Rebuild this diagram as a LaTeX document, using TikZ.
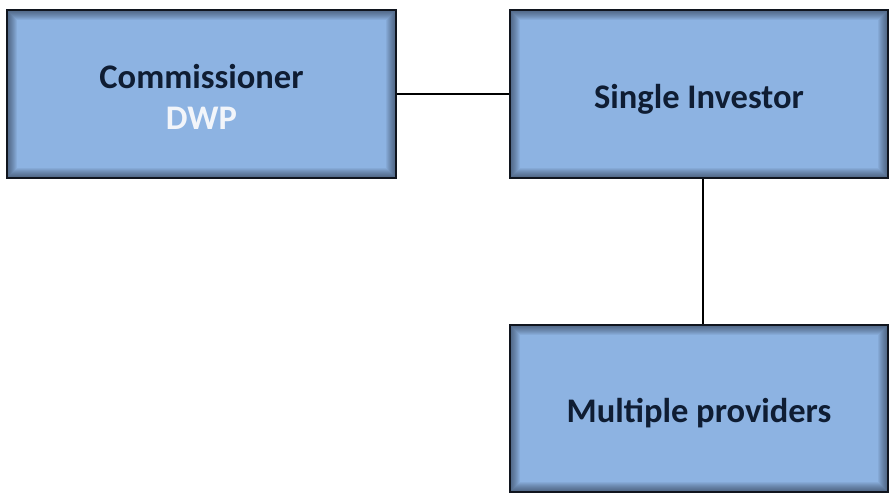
\documentclass[tikz,border=0pt]{standalone}
\usepackage{fontspec}
\setmainfont{Carlito}
\usetikzlibrary{calc}
\definecolor{boxfill}{HTML}{8DB3E2}
\definecolor{boxedge}{HTML}{10151E}
\definecolor{boxtext}{HTML}{0F1D33}
\definecolor{lighttext}{HTML}{F2F5FA}
\tikzset{
  orgbox/.style={rectangle, draw=boxedge, line width=2.8pt, fill=boxfill,
    inner sep=0pt, align=center, text=boxtext,
    text height=34pt, text depth=6pt,
    font=\fontsize{34.5}{41}\selectfont\bfseries,
    path picture={
      \foreach \i in {1,...,10}{
        \draw[line width=2*\i pt, draw=boxedge, opacity=0.06]
          (path picture bounding box.south west) rectangle
          (path picture bounding box.north east);
      }
    }},
  link/.style={draw=black, line width=2pt}
}
\begin{document}
\begin{tikzpicture}[x=1pt,y=-1pt]
  \useasboundingbox (0,0) rectangle (889,493);
  \fill[white] (0,0) rectangle (889,493);
  \node[orgbox, minimum width=389pt, minimum height=168pt,
        text height=74pt, text depth=4pt] (comm) at (201.5,94)
    {Commissioner\\\textcolor{lighttext}{DWP}};
  \node[orgbox, minimum width=378pt, minimum height=168pt] (inv) at (699,94)
    {Single Investor};
  \node[orgbox, minimum width=378pt, minimum height=167pt] (prov) at (699,408.5)
    {Multiple providers};
  \draw[link] (comm.east) -- (inv.west);
  \draw[link] ([xshift=4pt]inv.south) -- ([xshift=4pt]prov.north);
\end{tikzpicture}
\end{document}
